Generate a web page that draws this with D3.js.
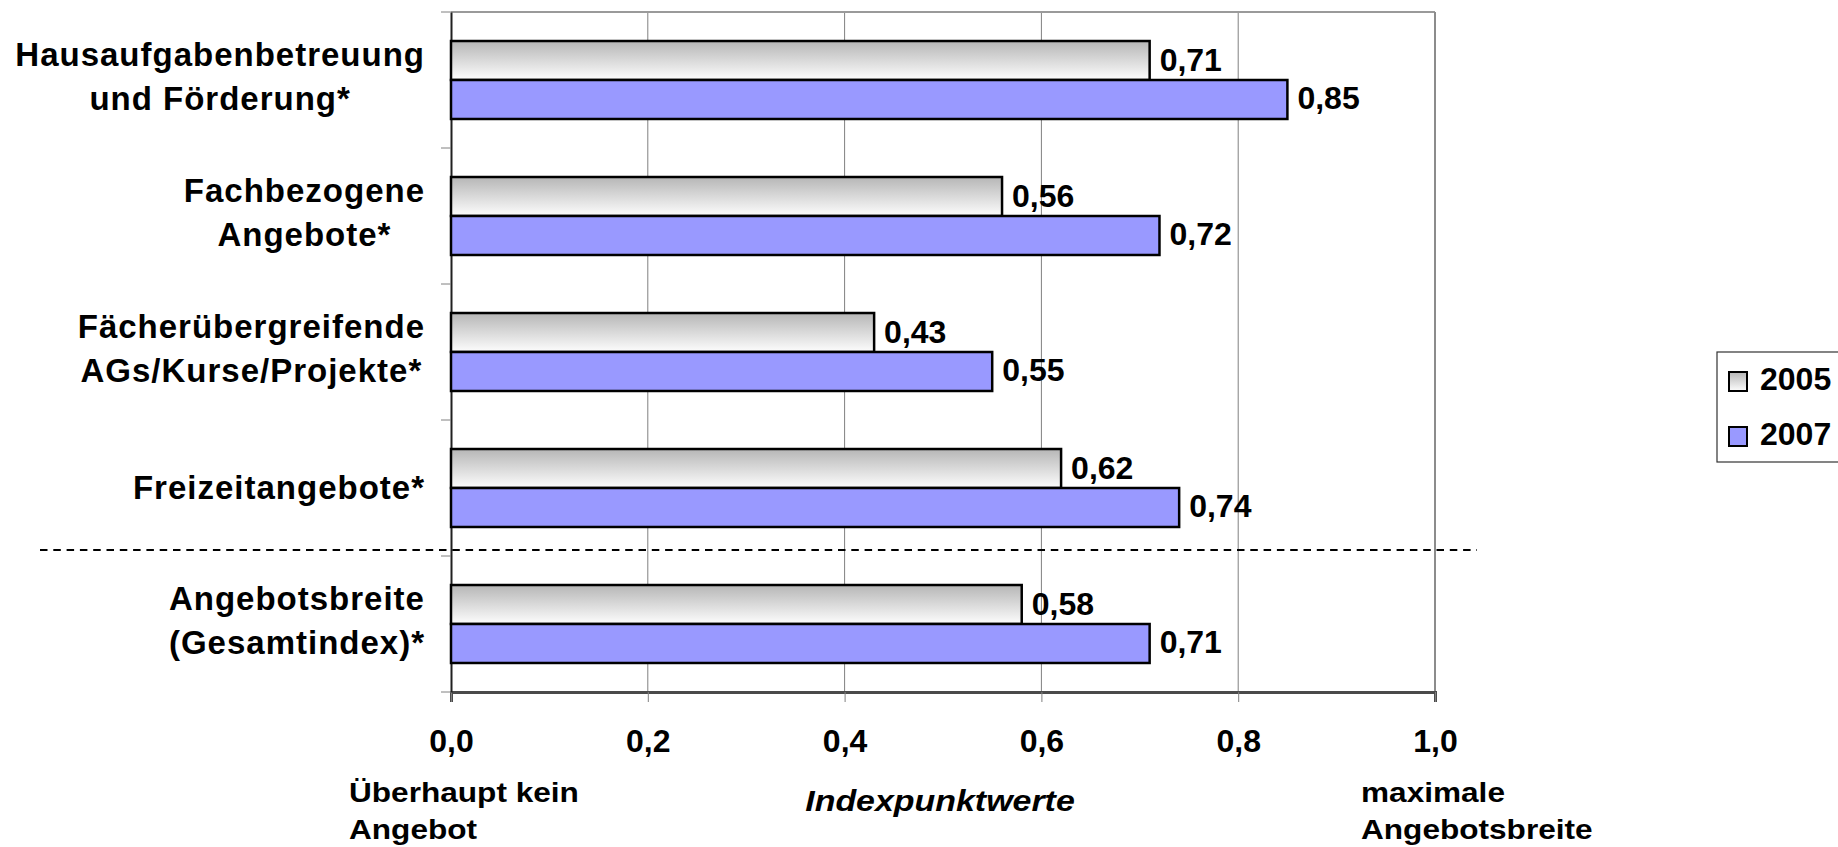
<!DOCTYPE html>
<html><head><meta charset="utf-8">
<script src="https://cdn.jsdelivr.net/npm/d3@7"></script>
<style>
html,body{margin:0;padding:0;background:#fff;}
svg{display:block;font-family:"Liberation Sans",Arial,sans-serif;font-weight:bold;}
</style></head>
<body><svg id="c" width="1838" height="847"></svg>
<script>
const categories = [
  "Hausaufgabenbetreuung\nund Förderung*",
  "Fachbezogene\nAngebote*",
  "Fächerübergreifende\nAGs/Kurse/Projekte*",
  "Freizeitangebote*",
  "Angebotsbreite\n(Gesamtindex)*"
];
const seriesNames = ["2005", "2007"];
const values2005 = [0.71, 0.56, 0.43, 0.62, 0.58];
const values2007 = [0.85, 0.72, 0.55, 0.74, 0.71];
const xTicks = [0, 0.2, 0.4, 0.6, 0.8, 1.0];
const xTitle = "Indexpunktwerte";
const leftNote = ["Überhaupt kein", "Angebot"];
const rightNote = ["maximale", "Angebotsbreite"];

const fmt = v => d3.format(".2f")(v).replace(".", ",");
const fmtTick = v => d3.format(".1f")(v).replace(".", ",");

const svg = d3.select("#c");
const defs = svg.append("defs");
const grad = defs.append("linearGradient").attr("id","g05").attr("x1",0).attr("y1",0).attr("x2",0).attr("y2",1);
grad.append("stop").attr("offset","0%").attr("stop-color","#b6b6b6");
grad.append("stop").attr("offset","100%").attr("stop-color","#fdfdfd");
const fills = {"2005":"url(#g05)","2007":"#9999ff"};

const x = d3.scaleLinear().domain([0,1]).range([451,1435]);
const y = d3.scaleBand().domain(categories).range([12,692]).padding(0);
const yIn = d3.scaleBand().domain(seriesNames).range([0,y.bandwidth()]).paddingInner(0).paddingOuter(0.744);

// grid lines
svg.append("g").selectAll("line").data(xTicks.slice(1,-1)).join("line")
  .attr("x1",d=>x(d)).attr("x2",d=>x(d)).attr("y1",12).attr("y2",692)
  .attr("stroke","#808080").attr("stroke-width",1);
// frame top / right
svg.append("line").attr("x1",x(0)).attr("x2",x(1)).attr("y1",12).attr("y2",12).attr("stroke","#9a9a9a").attr("stroke-width",2);
svg.append("line").attr("x1",x(1)).attr("x2",x(1)).attr("y1",12).attr("y2",692).attr("stroke","#8c8c8c").attr("stroke-width",2);

// bottom axis
const xAxis = d3.axisBottom(x).tickValues(xTicks).tickFormat(fmtTick).tickSize(10).tickPadding(0);
const gx = svg.append("g").attr("transform","translate(0,692)").call(xAxis);
gx.select(".domain").attr("stroke","#4a4a4a").attr("stroke-width",3);
gx.selectAll(".tick line").attr("stroke","#808080");
gx.selectAll(".tick text").attr("font-size",32).attr("font-weight","bold").attr("fill","#000")
  .attr("font-family","Liberation Sans, Arial, sans-serif").attr("dy",null).attr("y",60);

// left axis
const yAxis = d3.axisLeft(y).tickValues([]).tickSize(0);
const gy = svg.append("g").attr("transform","translate(451,0)").call(yAxis);
gy.select(".domain").attr("stroke","#202020").attr("stroke-width",2);
svg.append("g").selectAll("line").data(d3.range(categories.length+1)).join("line")
  .attr("x1",441).attr("x2",451)
  .attr("y1",i=>12 + i*y.step()).attr("y2",i=>12 + i*y.step())
  .attr("stroke","#808080").attr("stroke-width",1);

// bars
const rows = categories.map((c,i)=>({cat:c, v:{"2005":values2005[i],"2007":values2007[i]}}));
const grp = svg.append("g").selectAll("g").data(rows).join("g").attr("transform",d=>`translate(0,${y(d.cat)})`);
grp.selectAll("rect").data(d=>seriesNames.map(s=>({s, v:d.v[s]}))).join("rect")
  .attr("x",x(0)).attr("y",d=>yIn(d.s)).attr("width",d=>x(d.v)-x(0)).attr("height",yIn.bandwidth())
  .attr("fill",d=>fills[d.s]).attr("stroke","#000").attr("stroke-width",2.5);
grp.selectAll("text").data(d=>seriesNames.map(s=>({s, v:d.v[s]}))).join("text")
  .attr("x",d=>x(d.v)+10).attr("y",d=>yIn(d.s)+yIn.bandwidth()/2+10)
  .attr("font-size",32).attr("fill","#000").text(d=>fmt(d.v));

// category labels
const labG = svg.append("g");
categories.forEach(c=>{
  const lines = c.split("\n");
  const cy = y(c) + y.bandwidth()/2;
  const g = labG.append("g");
  const ts = lines.map((l,i)=>g.append("text").attr("font-size",33).attr("letter-spacing","1px")
      .attr("text-anchor","middle").attr("fill","#000").text(l));
  const w = d3.max(ts, t=>t.node().getComputedTextLength());
  const cx = 425 - w/2;
  ts.forEach((t,i)=>{
    const by = lines.length===1 ? cy+11 : (i===0 ? cy-14 : cy+30);
    t.attr("x",cx).attr("y",by);
  });
});

// dashed separator
svg.append("line").attr("x1",40).attr("x2",1477)
  .attr("y1",y(categories[4])-6).attr("y2",y(categories[4])-6)
  .attr("stroke","#000").attr("stroke-width",2).attr("stroke-dasharray","7.5,5.8");

// bottom notes
function note(lines, x0, y0, anchor){
  lines.forEach((l,i)=>{
    svg.append("text").attr("transform",`translate(${x0},${y0+i*37}) scale(1.17,1)`)
      .attr("font-size",27).attr("fill","#000").attr("text-anchor",anchor||"start").text(l);
  });
}
note(leftNote, 349, 802);
note(rightNote, 1361, 802);
svg.append("text").attr("transform",`translate(940,811) scale(1.17,1)`)
  .attr("font-size",29).attr("font-style","italic").attr("text-anchor","middle").attr("fill","#000").text(xTitle);

// legend
const lg = svg.append("g");
lg.append("rect").attr("x",1717).attr("y",352).attr("width",140).attr("height",110)
  .attr("fill","#fff").attr("stroke","#333").attr("stroke-width",1.2);
const li = lg.selectAll("g").data(seriesNames).join("g")
  .attr("transform",(d,i)=>`translate(1729,${372+i*55})`);
li.append("rect").attr("width",18).attr("height",19).attr("fill",d=>fills[d]).attr("stroke","#000").attr("stroke-width",2);
li.append("text").attr("x",31).attr("y",18).attr("font-size",32).attr("fill","#000").text(d=>d);
</script></body></html>
